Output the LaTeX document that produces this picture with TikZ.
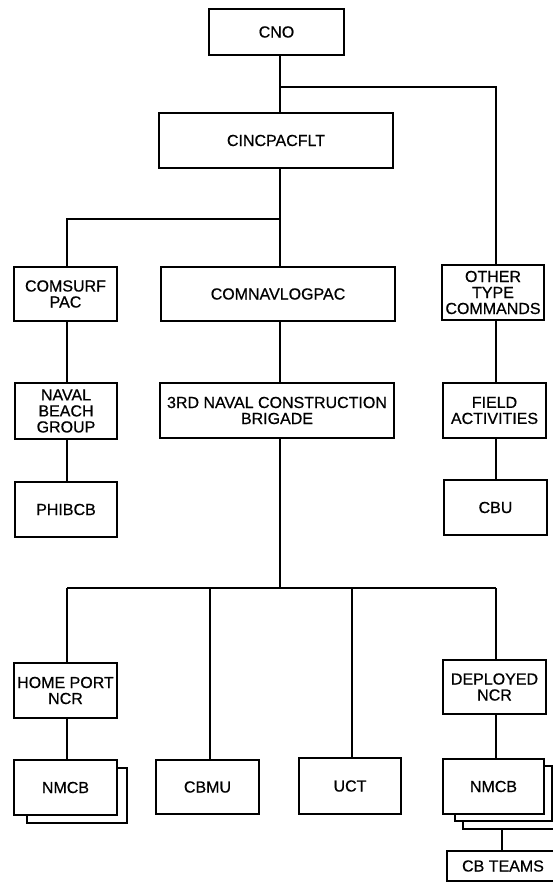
\documentclass[tikz,border=0pt]{standalone}
\usepackage{fontspec}
\setmainfont{Liberation Sans}[FakeBold=0.6]
\begin{document}
\begin{tikzpicture}[x=1pt,y=-1pt,
  box/.style={draw, line width=1.6pt, fill=white, inner sep=0pt, outer sep=0pt,
    align=center, font=\fontsize{16}{16}\selectfont},
  shadowbox/.style={draw, line width=1.6pt, fill=white},
  conn/.style={line width=1.5pt}]
\useasboundingbox (0,0) rectangle (553,883);
\fill[white] (0,0) rectangle (553,883);
\clip (0,0) rectangle (553,883);

% column x positions
\coordinate (xm) at (280,0);
\coordinate (xl) at (67,0);
\coordinate (xr) at (496,0);
\coordinate (xc) at (210,0);
\coordinate (xu) at (352,0);
\coordinate (xt) at (502,0);
% junctions
\coordinate (j1) at (280,87);
\coordinate (j1r) at (496,87);
\coordinate (j2) at (280,219);
\coordinate (j2l) at (67,219);
\coordinate (j3) at (280,588);
\coordinate (j3l) at (67,588);
\coordinate (j3r) at (496,588);

% boxes
\node[box, minimum width=135pt, minimum height=46pt] (cno) at (276.5,32) {CNO};
\node[box, minimum width=234pt, minimum height=55pt] (cinc) at (276,140.5) {CINCPACFLT};
\node[box, minimum width=103pt, minimum height=54pt] (comsurf) at (65.5,294) {COMSURF\\PAC};
\node[box, minimum width=234pt, minimum height=54pt] (comnav) at (278,294) {COMNAVLOGPAC};
\node[box, minimum width=102pt, minimum height=55pt] (other) at (493,292.5) {OTHER\\TYPE\\COMMANDS};
\node[box, minimum width=102pt, minimum height=56pt] (naval) at (66,411) {NAVAL\\BEACH\\GROUP};
\node[box, minimum width=234pt, minimum height=55pt] (third) at (277,410.5) {3RD NAVAL CONSTRUCTION\\BRIGADE};
\node[box, minimum width=103pt, minimum height=55pt] (field) at (494.5,410.5) {FIELD\\ACTIVITIES};
\node[box, minimum width=102pt, minimum height=55pt] (phibcb) at (66,509.5) {PHIBCB};
\node[box, minimum width=103pt, minimum height=55pt] (cbu) at (495.5,507.5) {CBU};
\node[box, minimum width=103pt, minimum height=55pt] (home) at (65.5,690.5) {HOME PORT\\NCR};
\node[box, minimum width=103pt, minimum height=54pt] (deployed) at (494.5,687) {DEPLOYED\\NCR};

\draw[shadowbox] (27,768) rectangle (127,823);
\node[box, minimum width=103pt, minimum height=55pt] (nmcbl) at (65.5,787.5) {NMCB};
\node[box, minimum width=103pt, minimum height=54pt] (cbmu) at (207.5,787) {CBMU};
\node[box, minimum width=102pt, minimum height=56pt] (uct) at (350,786) {UCT};
\draw[shadowbox] (463,774) rectangle (562,829);
\draw[shadowbox] (455,766) rectangle (552,821);
\node[box, minimum width=101pt, minimum height=55pt] (nmcbr) at (493.5,786.5) {NMCB};
\coordinate (nmcbrb) at (502,829);
\node[box, minimum width=112pt, minimum height=30pt] (cbteams) at (503,866) {CB TEAMS};

% connectors
\draw[conn] (cno.south -| xm) -- (cinc.north -| xm);
\draw[conn] (j1) -- (j1r) -- (other.north -| xr);
\draw[conn] (cinc.south -| xm) -- (comnav.north -| xm);
\draw[conn] (j2) -- (j2l) -- (comsurf.north -| xl);
\draw[conn] (comsurf.south -| xl) -- (naval.north -| xl);
\draw[conn] (naval.south -| xl) -- (phibcb.north -| xl);
\draw[conn] (comnav.south -| xm) -- (third.north -| xm);
\draw[conn] (other.south -| xr) -- (field.north -| xr);
\draw[conn] (field.south -| xr) -- (cbu.north -| xr);
\draw[conn] (third.south -| xm) -- (j3);
\draw[conn] (j3l) -- (j3r);
\draw[conn] (j3l) -- (home.north -| xl);
\draw[conn] (j3 -| xc) -- (cbmu.north -| xc);
\draw[conn] (j3 -| xu) -- (uct.north -| xu);
\draw[conn] (j3r) -- (deployed.north -| xr);
\draw[conn] (home.south -| xl) -- (nmcbl.north -| xl);
\draw[conn] (deployed.south -| xr) -- (nmcbr.north -| xr);
\draw[conn] (nmcbrb) -- (cbteams.north -| xt);
\end{tikzpicture}
\end{document}
